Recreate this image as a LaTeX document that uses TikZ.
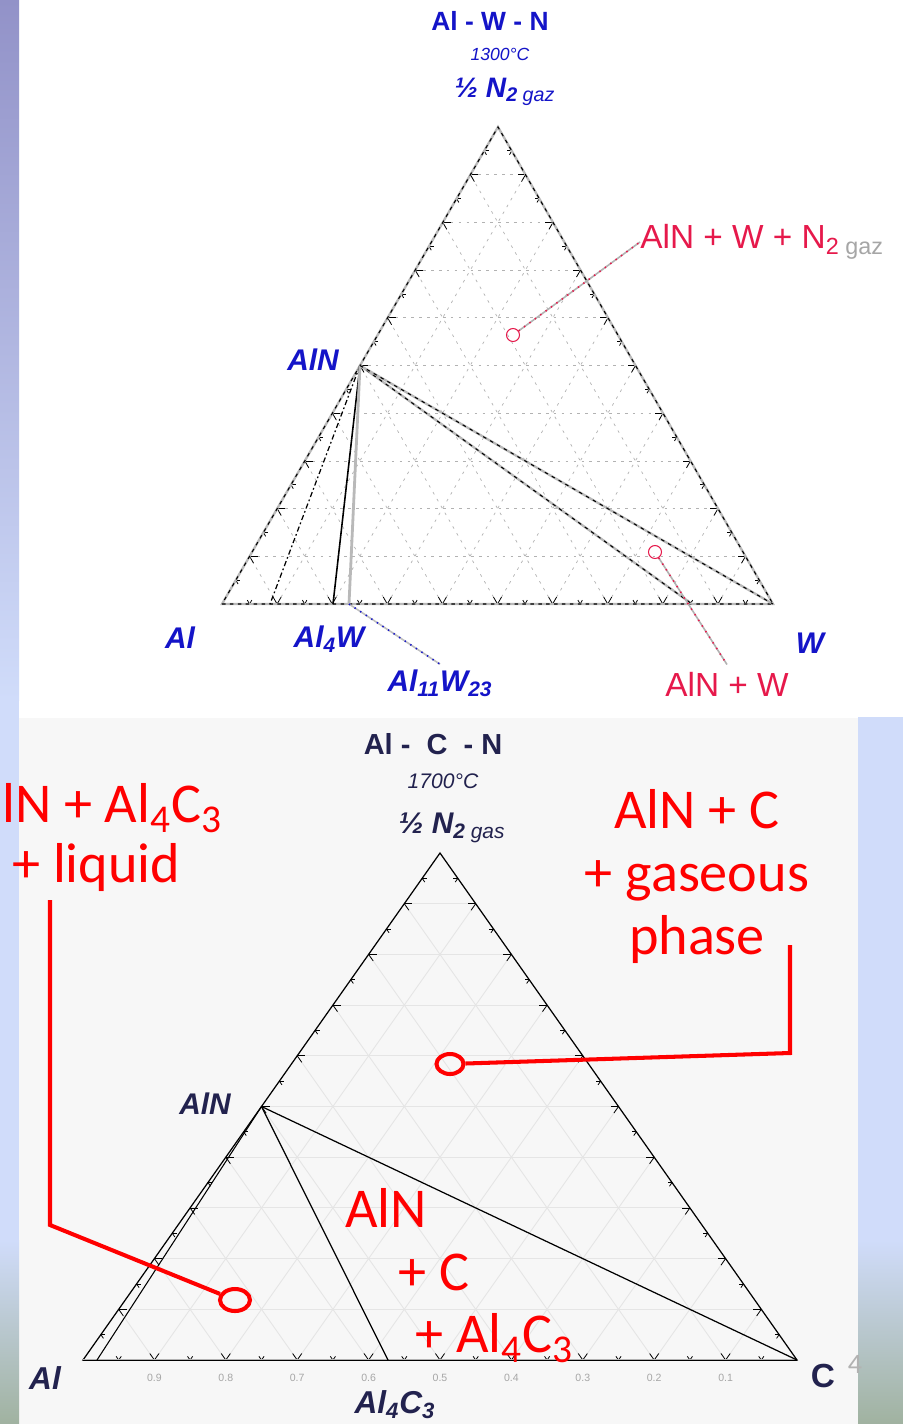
\documentclass[tikz,border=0pt]{standalone}
\usepackage{fontspec}
\setmainfont{Liberation Sans}
\newfontfamily\calibri{Carlito}
\usetikzlibrary{calc,shapes.geometric}

\definecolor{stripTop}{HTML}{9292C8}
\definecolor{stripMid}{HTML}{D0DCFA}
\definecolor{stripBot}{HTML}{A0B2A0}
\definecolor{labBlue}{HTML}{1414C8}
\definecolor{labNavy}{HTML}{22224E}
\definecolor{pinkRed}{HTML}{E6194B}
\definecolor{photoBg}{HTML}{F7F7F7}

\tikzset{
  edge/.style={gray!55, line width=1.3pt},
  edgedash/.style={black, line width=0.6pt, dash pattern=on 2pt off 2.5pt},
  gridline/.style={gray!60, line width=0.4pt, dash pattern=on 1.5pt off 3pt},
  faintgrid/.style={gray!20, line width=0.5pt},
  tick/.style={black, line width=0.45pt},
  bluelab/.style={text=labBlue, font=\bfseries\itshape\fontsize{17}{17}\selectfont, inner sep=0pt},
  navylab/.style={text=labNavy, font=\bfseries\itshape\fontsize{18}{18}\selectfont, inner sep=0pt},
  redlab/.style={text=pinkRed, font=\fontsize{19}{19}\selectfont, inner sep=0pt},
  bigred/.style={text=red, font=\calibri\fontsize{32}{36}\selectfont, inner sep=0pt},
  marker/.style={circle, draw=pinkRed, line width=0.6pt, minimum size=0.26cm, inner sep=0pt},
  leader/.style={gray!60, line width=0.9pt},
  leaderdots/.style={dash pattern=on 0.8pt off 3pt, line width=0.9pt},
  callout/.style={red, line width=2.3pt},
  ring/.style={ellipse, draw=red, line width=2.3pt, inner sep=0pt},
  basenum/.style={text=gray!70, font=\fontsize{6}{6}\selectfont, inner sep=0pt}
}

% grid and ticks of a ternary diagram: #1 left, #2 right, #3 top, #4 grid style
\newcommand\terngrid[4]{%
  \foreach \k in {1,...,9}{
    \draw[#4] ($(#1)!\k/10!(#2)$) -- ($(#3)!\k/10!(#2)$);
    \draw[#4] ($(#2)!\k/10!(#1)$) -- ($(#3)!\k/10!(#1)$);
    \draw[#4] ($(#1)!\k/10!(#3)$) -- ($(#2)!\k/10!(#3)$);
  }
  \foreach \k in {1,...,19}{
    \pgfmathsetmacro\ticklen{mod(\k,2)==0 ? 0.16 : 0.09}
    \coordinate (p) at ($(#1)!\k/20!(#2)$);
    \coordinate (q) at ($(#3)!\k/20!(#2)$);
    \draw[tick] (p) -- ($(p)!\ticklen cm!(q)$) (q) -- ($(q)!\ticklen cm!(p)$);
    \coordinate (p) at ($(#2)!\k/20!(#1)$);
    \coordinate (q) at ($(#3)!\k/20!(#1)$);
    \draw[tick] (p) -- ($(p)!\ticklen cm!(q)$) (q) -- ($(q)!\ticklen cm!(p)$);
    \coordinate (p) at ($(#1)!\k/20!(#3)$);
    \coordinate (q) at ($(#2)!\k/20!(#3)$);
    \draw[tick] (p) -- ($(p)!\ticklen cm!(q)$) (q) -- ($(q)!\ticklen cm!(p)$);
  }
}

\begin{document}
\begin{tikzpicture}[x=0.02cm, y=-0.02cm]
  \useasboundingbox (0,0) rectangle (903,1424);

  % background and side strips
  \fill[white] (0,0) rectangle (903,1424);
  \fill[photoBg] (19,718) rectangle (858,1424);
  \shade[top color=stripTop, bottom color=stripMid] (0,0) rectangle (19,700);
  \fill[stripMid] (0,700) rectangle (19,1240);
  \shade[top color=stripMid, bottom color=stripBot] (0,1240) rectangle (19,1424);
  \fill[stripMid] (858,717) rectangle (903,1240);
  \shade[top color=stripMid, bottom color=stripBot] (858,1240) rectangle (903,1424);

  % ---------- Al - W - N ----------
  \coordinate (Al) at (222,604);
  \coordinate (W) at (773,604);
  \coordinate (N) at (498,127);
  \coordinate (AlN) at ($(Al)!0.5!(N)$);
  \coordinate (t1) at (270,604);
  \coordinate (Al4W) at (333,604);
  \coordinate (Al11W23) at (349,604);
  \coordinate (t4) at (692,604);

  \terngrid{Al}{W}{N}{gridline}

  \draw[edge] (Al) -- (W) -- (N) -- cycle;
  \draw[edgedash] (Al) -- (W) -- (N) -- cycle;

  % tie lines
  \draw[black, line width=0.7pt, dash pattern=on 3pt off 1.5pt on 1pt off 1.5pt] (AlN) -- (t1);
  \draw[black, line width=0.9pt] (AlN) -- (Al4W);
  \draw[gray!55, line width=1.6pt] (AlN) -- (Al11W23);
  \draw[edge] (AlN) -- (t4);
  \draw[edgedash] (AlN) -- (t4);
  \draw[edge] (AlN) -- (W);
  \draw[edgedash] (AlN) -- (W);

  % labels
  \node[bluelab, font=\bfseries\fontsize{15}{15}\selectfont] (ttl1) at (490,21) {Al - W - N};
  \node[bluelab, font=\itshape\fontsize{10}{10}\selectfont] (tmp1) at (500,54) {1300°C};
  \node[bluelab, font=\bfseries\itshape\fontsize{16}{16}\selectfont] (nga) at (505,92)
    {½ N\textsubscript{2 \mdseries gaz}};
  \node[bluelab] (lAlN) at (313,360) {AlN};
  \node[bluelab] (lAl) at (180,638) {Al};
  \node[bluelab] (lAl4W) at (329,639) {Al\textsubscript{4}W};
  \node[bluelab, inner sep=3pt] (lAl11) at (440,683) {Al\textsubscript{11}W\textsubscript{23}};
  \node[bluelab] (lW) at (810,643) {W};
  \draw[leader, gray!50] (Al11W23) -- (lAl11.north);
  \draw[leaderdots, labBlue] (Al11W23) -- (lAl11.north);

  % phase fields
  \node[marker] (m1) at (513,335) {};
  \node[marker] (m2) at (655,552) {};
  \node[redlab, anchor=west] (lw3) at (640,242)
    {AlN + W + N\textsubscript{2 \textcolor{gray!70}{gaz}}};
  \node[redlab, inner sep=4pt] (lw2) at (727,684) {AlN + W};
  \draw[leader] (m1) -- (lw3.west);
  \draw[leaderdots, pinkRed] (m1) -- (lw3.west);
  \draw[leader] (m2) -- (lw2.north);
  \draw[leaderdots, pinkRed] (m2) -- (lw2.north);

  % ---------- Al - C - N ----------
  \coordinate (Al2) at (83,1360);
  \coordinate (C) at (797,1360);
  \coordinate (N2) at (440,853);
  \coordinate (AlN2) at ($(Al2)!0.5!(N2)$);
  \coordinate (Al4C3) at (388,1360);
  \coordinate (AlLiq) at (97,1360);

  \terngrid{Al2}{C}{N2}{faintgrid}

  \draw[black, line width=0.7pt] (Al2) -- (C) -- (N2) -- cycle;
  \draw[gray!60, line width=1.2pt] (Al2) -- (C);
  \draw[black, line width=0.5pt] (Al2) -- (C);
  \draw[black, line width=0.6pt] (AlLiq) -- (AlN2);
  \draw[black, line width=0.7pt] (AlN2) -- (Al4C3);
  \draw[black, line width=0.7pt] (AlN2) -- (C);

  \foreach \k/\v in {1/0.9,2/0.8,3/0.7,4/0.6,5/0.5,6/0.4,7/0.3,8/0.2,9/0.1}
    \node[basenum] (bn\k) at ($(Al2)!\k/10!(C) + (0,18)$) {\v};

  \node[navylab, font=\bfseries\fontsize{16.5}{16.5}\selectfont] (ttl2) at (433,744) {Al -\ \ C\ \ - N};
  \node[navylab, font=\itshape\fontsize{12}{12}\selectfont] (tmp2) at (443,781) {1700°C};
  \node[navylab, font=\bfseries\itshape\fontsize{17}{17}\selectfont] (ngb) at (452,828)
    {½ N\textsubscript{2 \mdseries gas}};
  \node[navylab, font=\bfseries\itshape\fontsize{17}{17}\selectfont] (lAlN2) at (205,1104) {AlN};
  \node[navylab] (lAl2) at (45,1378) {Al};
  \node[navylab, font=\bfseries\fontsize{19}{19}\selectfont] (lC) at (823,1376) {C};
  \node[navylab] (lAl4C3) at (395,1405) {Al\textsubscript{4}C\textsubscript{3}};

  % callouts
  \node[ring, minimum width=0.6cm, minimum height=0.44cm] (e1) at (235,1300) {};
  \node[ring, minimum width=0.54cm, minimum height=0.4cm] (e2) at (450,1064) {};
  \node[bigred, anchor=base west] (tl1) at (2,822) {lN + Al\textsubscript{4}C\textsubscript{3}};
  \node[bigred, anchor=base west] (tl2) at (12,882) {+ liquid};
  \node[bigred, align=center, anchor=north] (tr) at (697,789)
    {AlN + C\\+ gaseous\\phase};
  \node[bigred, anchor=base west] (tm1) at (345,1227) {AlN};
  \node[bigred, anchor=base west] (tm2) at (398,1290) {+ C};
  \node[bigred, anchor=base west] (tm3) at (415,1352) {+ Al\textsubscript{4}C\textsubscript{3}};

  \coordinate (k1) at (50,900);
  \coordinate (k2) at (50,1225);
  \coordinate (k3) at (790,945);
  \coordinate (k4) at (790,1053);
  \draw[callout] (k1) -- (k2) -- (e1);
  \draw[callout] (k3) -- (k4) -- (e2);

  \node[text=gray!60, font=\calibri\fontsize{16}{16}\selectfont, inner sep=0pt] (pg) at (855,1364) {4};
\end{tikzpicture}
\end{document}
